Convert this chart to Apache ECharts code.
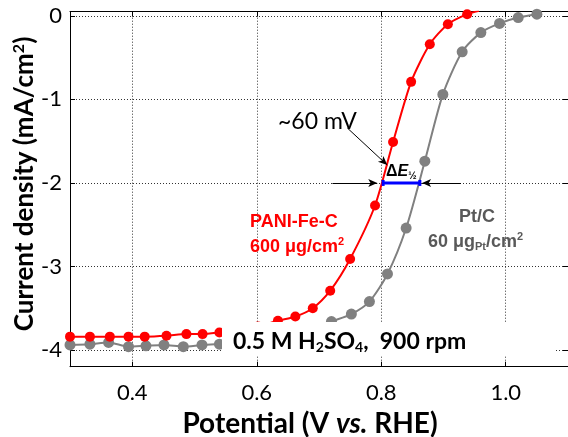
<!DOCTYPE html>
<html><head><meta charset="utf-8">
<script src="https://cdn.jsdelivr.net/npm/echarts@6/dist/echarts.min.js"></script>
<style>html,body{margin:0;padding:0;background:#fff}#c{width:568px;height:437px}</style>
</head><body><div id="c"></div>
<script>
// ---- data ----
const xTicks = [0.4, 0.6, 0.8, 1.0];
const yTicks = [0, -1, -2, -3, -4];
const paniX = [0.300, 0.332, 0.364, 0.394, 0.420, 0.455, 0.487, 0.513, 0.540, 0.571, 0.602, 0.634, 0.662, 0.690, 0.718, 0.750, 0.790, 0.819, 0.848, 0.878, 0.907, 0.938];
const paniY = [-3.84, -3.84, -3.84, -3.84, -3.84, -3.83, -3.81, -3.81, -3.79, -3.76, -3.72, -3.65, -3.60, -3.50, -3.29, -2.91, -2.27, -1.51, -0.79, -0.34, -0.10, 0.02];
const paniTail = [0.957, 0.06];
const ptcX = [0.300, 0.332, 0.362, 0.394, 0.422, 0.451, 0.482, 0.512, 0.540, 0.570, 0.600, 0.630, 0.660, 0.690, 0.720, 0.752, 0.781, 0.810, 0.840, 0.870, 0.899, 0.930, 0.960, 0.990, 1.020, 1.050];
const ptcY = [-3.94, -3.93, -3.91, -3.96, -3.95, -3.94, -3.96, -3.94, -3.93, -3.92, -3.90, -3.87, -3.82, -3.75, -3.66, -3.57, -3.42, -3.09, -2.54, -1.74, -0.94, -0.43, -0.20, -0.09, -0.02, 0.02];
const deltaEX = [0.803, 0.862];
const deltaEY = [-2, -2];
const arrowFrom = [[0.7456, -1.343], [0.7216, -2.0], [0.928, -2.0]];
const arrowTo = [[0.8096, -1.786], [0.7936, -2.0], [0.8656, -2.0]];

const FONT = 'Lato';
const zip = (a, b) => a.map((v, i) => [v, b[i]]);
const paniData = zip(paniX, paniY);
paniData.push({ value: paniTail, symbol: 'none' });

const chart = echarts.init(document.getElementById('c'), null, { renderer: 'canvas' });
const dotted = { color: '#333', width: 1, type: [1, 2] };
const option = {
  animation: false,
  backgroundColor: '#fff',
  grid: { left: 70, top: 11.7, width: 500, height: 355, containLabel: false },
  xAxis: [{
    type: 'value', min: 0.3, max: 1.1, position: 'bottom',
    axisLine: { onZero: false, lineStyle: { color: '#000', width: 1 } },
    axisTick: { inside: true, length: 5, customValues: xTicks, lineStyle: { color: '#000' } },
    axisLabel: { customValues: xTicks, color: '#000', fontFamily: FONT, fontSize: 22, margin: 15, formatter: v => v.toFixed(1) },
    splitLine: { show: true, lineStyle: dotted }
  }, {
    type: 'value', min: 0.3, max: 1.1, position: 'top',
    axisLine: { onZero: false, lineStyle: { color: '#000', width: 1 } },
    axisTick: { inside: true, length: 5, customValues: xTicks, lineStyle: { color: '#000' } },
    axisLabel: { show: false }, splitLine: { show: false }
  }],
  yAxis: [{
    type: 'value', min: -4.2, max: 0.05, position: 'left',
    axisLine: { onZero: false, show: true, lineStyle: { color: '#000', width: 1 } },
    axisTick: { show: true, inside: true, length: 5, customValues: yTicks, lineStyle: { color: '#000' } },
    axisLabel: { customValues: yTicks, color: '#000', fontFamily: FONT, fontSize: 22, margin: 8 },
    splitLine: { show: true, lineStyle: dotted }
  }, {
    type: 'value', min: -4.2, max: 0.05, position: 'right',
    axisLine: { onZero: false, show: true, lineStyle: { color: '#000', width: 1 } },
    axisTick: { show: true, inside: true, length: 5, customValues: yTicks, lineStyle: { color: '#000' } },
    axisLabel: { show: false }, splitLine: { show: false }
  }],
  series: [
    {
      name: 'Pt/C', type: 'line', data: zip(ptcX, ptcY), smooth: 0.25,
      symbol: 'circle', symbolSize: 11, itemStyle: { color: '#808080' },
      lineStyle: { color: '#808080', width: 2 }, z: 2
    },
    {
      name: 'PANI-Fe-C', type: 'line', data: paniData, smooth: 0.25,
      symbol: 'circle', symbolSize: 10, itemStyle: { color: '#ff0000' },
      lineStyle: { color: '#ff0000', width: 2 }, z: 3
    },
    {
      name: 'dE', type: 'line', data: zip(deltaEX, deltaEY),
      symbol: 'rect', symbolSize: [3, 6], itemStyle: { color: '#0000ff' },
      lineStyle: { color: '#0000ff', width: 3 }, z: 4,
      markLine: {
        silent: true, symbol: ['none', 'arrow'], symbolSize: [6, 9],
        label: { show: false },
        lineStyle: { color: '#000', width: 1, type: 'solid' },
        data: arrowFrom.map((f, i) => [{ coord: f }, { coord: arrowTo[i] }])
      }
    }
  ],
  graphic: [
    { type: 'text', x: 25, y: 184, rotation: Math.PI / 2, z: 101, style: {
        text: 'Current density (mA/cm{p|2})', fill: '#000', font: 'bold 26px ' + FONT, align: 'center', verticalAlign: 'middle',
        rich: { p: { font: 'bold 16px ' + FONT, fill: '#000', padding: [0, 0, 12, 0] } } } },
    { type: 'text', x: 310, y: 424, z: 101, style: {
        text: 'Potential (V {i|vs.} RHE)', fill: '#000', font: 'bold 28px ' + FONT, align: 'center', verticalAlign: 'middle',
        rich: { i: { font: 'italic bold 28px ' + FONT, fill: '#000' } } } },
    { type: 'rect', shape: { x: 222, y: 322, width: 334, height: 33 }, style: { fill: '#fff' }, z: 100 },
    { type: 'text', x: 233, y: 342, z: 101, style: {
        text: '0.5 M H{s|2}SO{s|4}{n|,}  900 rpm', fill: '#000', font: 'bold 23px ' + FONT, verticalAlign: 'middle',
        rich: { s: { font: 'bold 14px ' + FONT, fill: '#000', verticalAlign: 'bottom', padding: [10, 0, 0, 0] }, n: { font: 'bold 23px ' + FONT, fill: '#000' } } } },
    { type: 'text', x: 278, y: 122, z: 101, style: { text: '~60 mV', fill: '#000', font: '23px ' + FONT, verticalAlign: 'middle' } },
    { type: 'text', x: 386, y: 172, z: 101, style: {
        text: 'Δ{e|E}{s|½}', fill: '#000', font: 'bold 16px Liberation Sans', verticalAlign: 'middle',
        rich: { e: { font: 'italic bold 16px Liberation Sans', fill: '#000' }, s: { font: 'bold 10px Liberation Sans', fill: '#000', padding: [8, 0, 0, 0] } } } },
    { type: 'text', x: 250, y: 222, z: 101, style: { text: 'PANI-Fe-C', fill: '#ff0000', font: 'bold 18px Liberation Sans', verticalAlign: 'middle' } },
    { type: 'text', x: 250, y: 247, z: 101, style: {
        text: '600 μg/cm{p|2}', fill: '#ff0000', font: 'bold 18px Liberation Sans', verticalAlign: 'middle',
        rich: { p: { font: 'bold 11px Liberation Sans', fill: '#ff0000', padding: [0, 0, 10, 0] } } } },
    { type: 'text', x: 459, y: 217, z: 101, style: { text: 'Pt/C', fill: '#595959', font: 'bold 18px Liberation Sans', verticalAlign: 'middle' } },
    { type: 'text', x: 428, y: 242, z: 101, style: {
        text: '60 μg{b|Pt}/cm{p|2}', fill: '#595959', font: 'bold 18px Liberation Sans', verticalAlign: 'middle',
        rich: { b: { font: 'bold 11px Liberation Sans', fill: '#595959', padding: [10, 0, 0, 0] }, p: { font: 'bold 11px Liberation Sans', fill: '#595959', padding: [0, 0, 10, 0] } } } }
  ]
};
chart.setOption(option);
</script></body></html>
